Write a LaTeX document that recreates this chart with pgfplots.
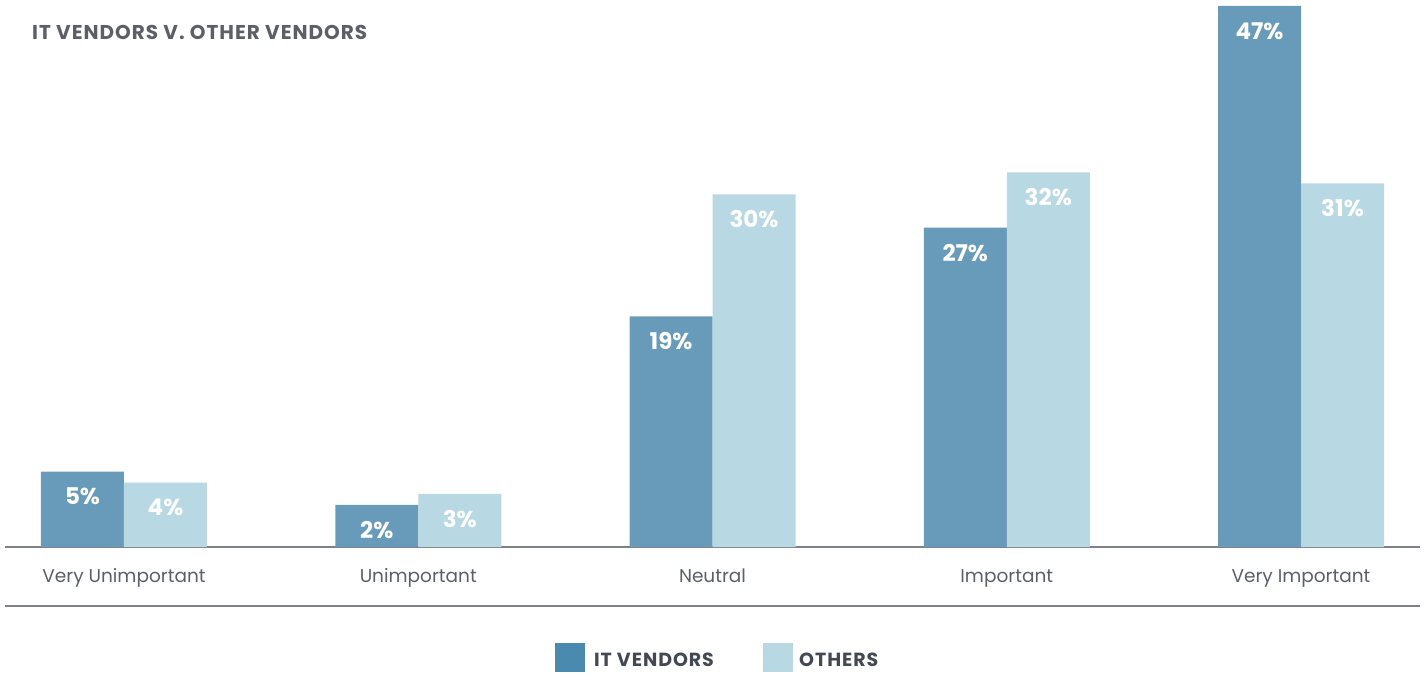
\documentclass[border=0pt]{standalone}
\usepackage{pgfplots}
\pgfplotsset{compat=1.18}
\usepackage{fontspec}
\setmainfont{Poppins}
\newfontfamily\spaced[LetterSpace=5]{Poppins}
\definecolor{itv}{HTML}{689BBA}
\definecolor{oth}{HTML}{B8D8E4}
\definecolor{legdark}{HTML}{4A8AAE}
\definecolor{txt}{HTML}{5B6068}
\definecolor{legtxt}{HTML}{434953}
\definecolor{linec}{HTML}{7D818B}
\begin{document}
\begin{tikzpicture}[x=1pt,y=1pt]
\path (0,0) rectangle (1426,-672);
\begin{axis}[
  at={(5pt,-547pt)}, anchor=south west,
  scale only axis, width=1415pt, height=541pt,
  xmin=-0.4044, xmax=4.4045, ymin=0, ymax=48.8,
  ybar=0pt, bar width=83pt,
  axis y line=none, axis x line*=bottom,
  x axis line style={draw=linec, line width=1.3pt},
  xtick={0,1,2,3,4},
  xticklabels={Very Unimportant, Unimportant, Neutral, Important, Very Important},
  major tick length=0pt,
  xticklabel style={anchor=base, yshift=-35pt, text=txt, font=\fontsize{18.5}{20}\selectfont},
  ytick=\empty,
  clip=false,
  y filter/.expression={y+1.8},
  point meta=rawy,
  nodes near coords={\pgfmathprintnumber[fixed,precision=0,assume math mode=true]{\pgfplotspointmeta}\%},
  every node near coord/.append style={anchor=center, yshift=-25pt, text=white, font=\bfseries\fontsize{23}{25}\selectfont},
]
\addplot[fill=itv, draw=none] coordinates {(0,5) (1,2) (2,19) (3,27) (4,47)};
\addplot[fill=oth, draw=none] coordinates {(0,4) (1,3) (2,30) (3,32) (4,31)};
\end{axis}
\node[anchor=base west, inner sep=0pt, text=txt, font=\spaced\bfseries\fontsize{20}{22}\selectfont] at (32,-39) {IT VENDORS V. OTHER VENDORS};
\draw[linec, line width=1.3pt] (5,-606) -- (1420,-606);
\fill[legdark] (555,-643) rectangle (585,-672);
\node[anchor=base west, inner sep=0pt, text=legtxt, font=\spaced\bfseries\fontsize{19}{21}\selectfont] at (594,-666) {IT VENDORS};
\fill[oth] (763,-643) rectangle (793,-672);
\node[anchor=base west, inner sep=0pt, text=legtxt, font=\spaced\bfseries\fontsize{19}{21}\selectfont] at (799,-666) {OTHERS};
\end{tikzpicture}
\end{document}
